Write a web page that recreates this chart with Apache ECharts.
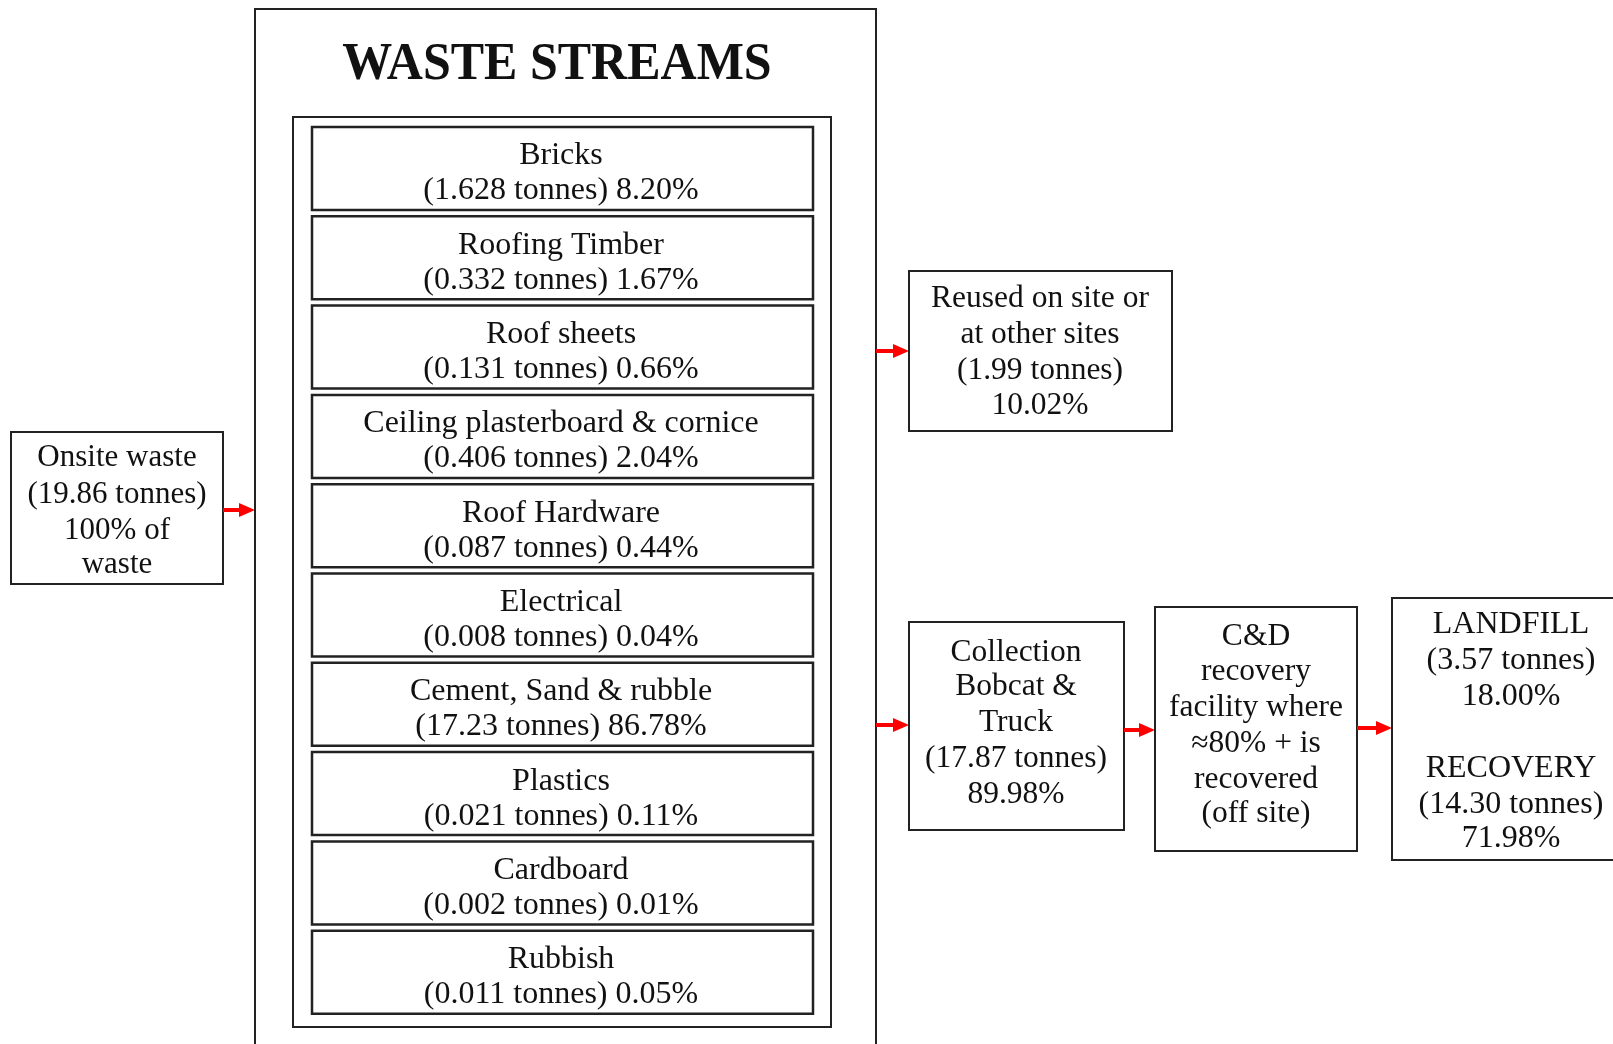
<!DOCTYPE html>
<html>
<head>
<meta charset="utf-8">
<script src="https://cdn.jsdelivr.net/npm/echarts@6/dist/echarts.min.js"></script>
<style>
  html, body { margin: 0; padding: 0; background: #fff; }
  #chart { width: 1613px; height: 1044px; }
</style>
</head>
<body>
<div id="chart"></div>
<script>
// waste streams data
var streamNames = ['Bricks', 'Roofing Timber', 'Roof sheets', 'Ceiling plasterboard & cornice', 'Roof Hardware',
    'Electrical', 'Cement, Sand & rubble', 'Plastics', 'Cardboard', 'Rubbish'];
var streamTonnes = [1.628, 0.332, 0.131, 0.406, 0.087, 0.008, 17.23, 0.021, 0.002, 0.011];
var streamPct = [8.20, 1.67, 0.66, 2.04, 0.44, 0.04, 86.78, 0.11, 0.01, 0.05];

// flow totals
var onsiteTonnes = 19.86;
var reusedTonnes = 1.99, reusedPct = 10.02;
var collectTonnes = 17.87, collectPct = 89.98;
var landfillTonnes = 3.57, landfillPct = 18.00;
var recoveryTonnes = 14.30, recoveryPct = 71.98;

var SERIF = '"Liberation Serif", "Times New Roman", serif';
var FONT = '31.5px ' + SERIF;
var INK = '#111';
var DY = 3; // glyphs sit a bit low in the original

function rect(x, y, w, h, lw) {
    return {
        type: 'rect',
        shape: { x: x, y: y, width: w, height: h },
        style: { fill: '#fff', stroke: '#222', lineWidth: lw || 2 }
    };
}
function txt(s, x, y, font) {
    return {
        type: 'text',
        style: { text: s, x: x, y: y + DY, font: font || FONT, fill: INK, align: 'center', verticalAlign: 'middle' }
    };
}
// text lines centred in a box
function lines(arr, cx, ys, font) {
    var out = [];
    for (var i = 0; i < arr.length; i++) {
        if (arr[i] !== '') out.push(txt(arr[i], cx, ys[i], font));
    }
    return out;
}
function arrow(x1, x2, y) {
    return [{
        type: 'line',
        shape: { x1: x1, y1: y, x2: x2 - 14, y2: y },
        style: { stroke: '#ff0000', lineWidth: 4 }
    }, {
        type: 'polygon',
        shape: { points: [[x2 - 16, y - 7], [x2, y], [x2 - 16, y + 7]] },
        style: { fill: '#ff0000' }
    }];
}

var els = [];

// onsite box
els.push(rect(11, 432, 212, 152));
els = els.concat(lines(['Onsite waste', '(' + onsiteTonnes + ' tonnes)', '100% of', 'waste'], 117, [455, 492, 528, 562],
    '31px ' + SERIF));
els = els.concat(arrow(223, 255, 510));

// outer container
els.push(rect(255, 9, 621, 1060));
els.push({
    type: 'text',
    style: { text: 'WASTE STREAMS', x: 557, y: 66, font: 'bold 50px ' + SERIF,
        fill: INK, align: 'center', verticalAlign: 'middle' },
    scaleY: 1.04, originX: 557, originY: 66
});
els.push(rect(293, 117, 538, 910));

// stream boxes
for (var i = 0; i < streamNames.length; i++) {
    var boxTop = 127 + i * 89.3;
    els.push(rect(312, boxTop, 501, 83, 2.5));
    els.push(txt(streamNames[i], 561, boxTop + 26, '32px ' + SERIF));
    els.push(txt('(' + streamTonnes[i] + ' tonnes) ' + streamPct[i].toFixed(2) + '%', 561, boxTop + 61, '32px ' + SERIF));
}

// reused
els = els.concat(arrow(876, 909, 351));
els.push(rect(909, 271, 263, 160));
els = els.concat(lines(['Reused on site or', 'at other sites', '(' + reusedTonnes + ' tonnes)', reusedPct.toFixed(2) + '%'],
    1040, [296, 332, 368, 403]));

// collection
els = els.concat(arrow(876, 909, 725));
els.push(rect(909, 622, 215, 208));
els = els.concat(lines(['Collection', 'Bobcat &', 'Truck', '(' + collectTonnes + ' tonnes)', collectPct.toFixed(2) + '%'],
    1016, [650, 684, 720, 756, 792]));

// C&D recovery facility
els = els.concat(arrow(1124, 1155, 730));
els.push(rect(1155, 607, 202, 244));
els = els.concat(lines(['C&D', 'recovery', 'facility where', '\u224880% + is', 'recovered', '(off site)'],
    1256, [634, 669, 705, 741, 777, 811]));

// landfill / recovery
els = els.concat(arrow(1357, 1392, 728));
els.push(rect(1392, 598, 250, 262));
els = els.concat(lines(['LANDFILL', '(' + landfillTonnes.toFixed(2) + ' tonnes)', landfillPct.toFixed(2) + '%', '',
    'RECOVERY', '(' + recoveryTonnes.toFixed(2) + ' tonnes)', recoveryPct.toFixed(2) + '%'],
    1511, [622, 658, 694, 730, 766, 802, 836], '32px ' + SERIF));

var myChart = echarts.init(document.getElementById('chart'));
myChart.setOption({
    backgroundColor: '#fff',
    animation: false,
    graphic: { elements: els }
});
</script>
</body>
</html>
